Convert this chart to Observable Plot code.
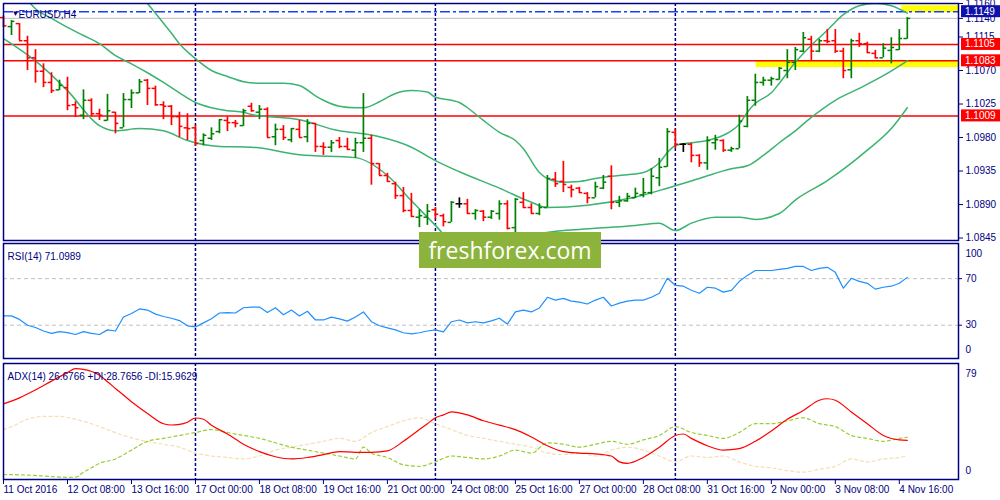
<!DOCTYPE html>
<html><head><meta charset="utf-8">
<script src="https://cdn.jsdelivr.net/npm/d3@7"></script>
<script src="https://cdn.jsdelivr.net/npm/@observablehq/plot@0.6"></script>
<style>
body{margin:0;background:#fff;}
#wrap{position:relative;width:1000px;height:500px;overflow:hidden;background:#fff;}
#wrap svg{position:absolute;left:0;}
#wm{position:absolute;left:419px;top:232px;width:182px;height:36px;background:#8cb43c;color:#fff;font-family:"Open Sans",sans-serif;font-size:23px;line-height:36px;text-align:center;z-index:5;}
</style></head><body><div id="wrap"></div><script>
// ---------- data ----------
const tickIdx = [0,8,16,24,32,40,48,56,64,72,80,88,96,104,112];
const tickLabels = ["11 Oct 2016","12 Oct 08:00","13 Oct 16:00","17 Oct 00:00","18 Oct 08:00","19 Oct 16:00","21 Oct 00:00","24 Oct 08:00","25 Oct 16:00","27 Oct 00:00","28 Oct 08:00","31 Oct 16:00","2 Nov 00:00","3 Nov 08:00","4 Nov 16:00"];
const weekStarts = [24, 54, 84];
const priceTicks = [1.1160,1.1140,1.1115,1.1070,1.1025,1.0980,1.0935,1.0890,1.0845];

const open = [
1.1141,1.1129,1.1133,1.1110,1.1087,1.1069,1.1054,1.1044,1.1047,1.1024,
1.1010,1.1030,1.1012,1.1003,1.1014,1.0993,1.1031,1.1040,1.1057,1.1046,
1.1024,1.1022,1.1008,1.0993,1.0993,1.0976,1.0979,1.0988,1.1003,1.1000,
1.0996,1.1022,1.1014,1.1018,1.0981,1.0991,1.0977,1.0991,1.0981,1.0999,
1.0968,1.0967,1.0976,1.0968,1.0963,1.0973,1.0979,1.0945,1.0929,1.0918,
1.0902,1.0882,1.0873,1.0873,1.0883,1.0875,1.0866,1.0891,1.0891,1.0878,
1.0881,1.0873,1.0878,1.0891,1.0859,1.0893,1.0886,1.0878,1.0886,1.0924,
1.0921,1.0913,1.0912,1.0905,1.0899,1.0912,1.0928,1.0893,1.0895,1.0899,
1.0903,1.0906,1.0926,1.0941,1.0987,1.0971,1.0971,1.0956,1.0946,1.0973,
1.0976,1.0963,1.0965,1.0995,1.1030,1.1054,1.1057,1.1058,1.1070,1.1081,
1.1096,1.1112,1.1096,1.1110,1.1110,1.1096,1.1071,1.1110,1.1106,1.1093,
1.1087,1.1097,1.1098,1.1113];
const high = [
1.1143,1.1137,1.1133,1.1116,1.1098,1.1079,1.1067,1.1057,1.1061,1.1028,
1.1044,1.1032,1.1018,1.1038,1.1014,1.1039,1.1044,1.1058,1.1058,1.1049,
1.1028,1.1023,1.1014,1.1012,1.0996,1.0985,1.0993,1.1004,1.1008,1.1003,
1.1018,1.1026,1.1023,1.1020,1.0998,1.0996,1.0992,1.1003,1.1004,1.0999,
1.0973,1.0976,1.0980,1.0979,1.0979,1.1039,1.0983,1.0945,1.0932,1.0920,
1.0913,1.0905,1.0883,1.0890,1.0886,1.0877,1.0894,1.0899,1.0897,1.0883,
1.0882,1.0882,1.0895,1.0895,1.0898,1.0906,1.0891,1.0891,1.0929,1.0933,
1.0948,1.0916,1.0913,1.0906,1.0920,1.0929,1.0942,1.0901,1.0905,1.0912,
1.0925,1.0938,1.0952,1.0992,1.0991,1.0972,1.0972,1.0957,1.0981,1.0983,
1.0977,1.0967,1.1010,1.1035,1.1065,1.1061,1.1061,1.1074,1.1098,1.1101,
1.1121,1.1116,1.1112,1.1125,1.1125,1.1100,1.1112,1.1120,1.1108,1.1097,
1.1106,1.1114,1.1125,1.1141];
const low = [
1.1128,1.1117,1.1110,1.1070,1.1053,1.1047,1.1039,1.1043,1.1016,1.1007,
1.1004,1.1008,1.1003,1.1002,1.0985,1.0993,1.1019,1.1039,1.1023,1.1022,
1.1004,1.0996,1.0980,1.0976,1.0968,1.0969,1.0976,1.0985,1.0988,1.0993,
1.0995,1.1014,1.1004,1.0980,1.0969,1.0976,1.0973,1.0980,1.0973,1.0960,
1.0956,1.0960,1.0965,1.0963,1.0952,1.0960,1.0916,1.0929,1.0920,1.0897,
1.0879,1.0873,1.0859,1.0862,1.0870,1.0860,1.0866,1.0885,1.0877,1.0869,
1.0867,1.0870,1.0869,1.0856,1.0852,1.0885,1.0877,1.0875,1.0886,1.0913,
1.0906,1.0899,1.0905,1.0891,1.0899,1.0910,1.0883,1.0886,1.0893,1.0898,
1.0899,1.0903,1.0914,1.0940,1.0965,1.0960,1.0946,1.0940,1.0936,1.0963,
1.0960,1.0960,1.0965,1.0993,1.1022,1.1049,1.1049,1.1057,1.1059,1.1070,
1.1094,1.1083,1.1094,1.1106,1.1093,1.1059,1.1059,1.1101,1.1093,1.1086,
1.1087,1.1079,1.1097,1.1112];
const close = [
1.1130,1.1136,1.1110,1.1087,1.1069,1.1054,1.1043,1.1050,1.1023,1.1020,
1.1030,1.1012,1.1010,1.1016,1.0999,1.1031,1.1040,1.1055,1.1046,1.1024,
1.1022,1.1008,1.0995,1.0992,1.0972,1.0983,1.0985,1.1004,1.1000,1.0999,
1.1016,1.1016,1.1018,1.0980,1.0991,1.0980,1.0992,1.0980,1.0999,1.0968,
1.0967,1.0973,1.0968,1.0964,1.0973,1.0979,1.0945,1.0929,1.0921,1.0902,
1.0882,1.0874,1.0875,1.0881,1.0877,1.0867,1.0893,1.0891,1.0878,1.0882,
1.0873,1.0881,1.0891,1.0858,1.0897,1.0886,1.0878,1.0886,1.0925,1.0918,
1.0917,1.0910,1.0906,1.0899,1.0914,1.0920,1.0893,1.0895,1.0901,1.0905,
1.0906,1.0928,1.0940,1.0988,1.0971,1.0971,1.0956,1.0946,1.0976,1.0977,
1.0963,1.0965,1.1002,1.1030,1.1054,1.1057,1.1059,1.1073,1.1081,1.1098,
1.1114,1.1096,1.1110,1.1109,1.1096,1.1070,1.1110,1.1106,1.1094,1.1087,
1.1100,1.1101,1.1113,1.1140];

// Bollinger bands (bar index, price)
const bbUpper = [[16,1.1185],[18,1.1160],[19,1.1147],[21,1.1120],[22,1.1106],[24,1.1086],[26,1.1070],[28,1.1062],[30,1.1055],[32,1.1053],[35,1.1053],[37,1.1050],[39,1.1036],[40,1.1030],[42,1.1022],[44,1.1020],[45,1.1020],[47,1.1028],[48,1.1034],[50,1.1042],[51,1.1043],[53,1.1041],[54,1.1034],[56,1.1030],[57,1.1027],[58,1.1020],[60,1.1003],[62,1.0987],[64,1.0976],[65,1.0965],[67,1.0933],[68,1.0925],[70,1.0920],[72,1.0921],[74,1.0925],[76,1.0928],[78,1.0930],[80,1.0933],[81,1.0938],[82,1.0946],[83,1.0960],[84,1.0969],[86,1.0973],[88,1.0976],[90,1.0983],[91,1.0989],[92,1.0998],[93,1.1014],[94,1.1026],[96,1.1040],[97,1.1053],[99,1.1081],[101,1.1104],[103,1.1124],[105,1.1145],[107,1.1157],[109,1.1160],[111,1.1157],[113,1.1147]];
const bbMiddle = [[2,1.1175],[3,1.1164],[4,1.1153],[6,1.1140],[8,1.1128],[10,1.1117],[12,1.1106],[14,1.1090],[16,1.1079],[18,1.1067],[20,1.1054],[22,1.1040],[24,1.1027],[26,1.1020],[28,1.1016],[30,1.1014],[31,1.1011],[37,1.1004],[42,1.0989],[45,1.0985],[47,1.0981],[51,1.0967],[54,1.0949],[57,1.0934],[62,1.0912],[66,1.0893],[68,1.0886],[73,1.0889],[79,1.0900],[83,1.0912],[87,1.0925],[91,1.0938],[93,1.0942],[95,1.0956],[97,1.0973],[99,1.0989],[101,1.1007],[104,1.1030],[107,1.1046],[110,1.1063],[113,1.1083]];
const bbLower = [[0,1.1113],[4,1.1083],[8,1.1043],[12,1.0996],[14,1.0989],[17,1.0992],[20,1.0989],[23,1.0976],[27,1.0968],[31,1.0967],[37,1.0957],[44,1.0953],[48,1.0929],[51,1.0895],[54,1.0862],[57,1.0828],[60,1.0818],[63,1.0828],[67,1.0851],[74,1.0858],[79,1.0862],[82,1.0865],[84,1.0855],[86,1.0865],[89,1.0873],[92,1.0873],[94,1.0870],[97,1.0878],[99,1.0896],[103,1.0922],[108,1.0963],[111,1.0992],[113,1.1020]];

const levels = [1.1105, 1.1083, 1.1009];
const markLevel = 1.1149;
const askLevel = 1.1140;
const highlights = [{x1:94.1,x2:119.4,y1:1.1074,y2:1.1083},{x1:112.3,x2:119.4,y1:1.1148,y2:1.1157}];
const boxes = [{v:1.1149,c:"#1010aa"},{v:1.1105,c:"#ff0000"},{v:1.1083,c:"#ff0000"},{v:1.1009,c:"#ff0000"}];
const arrowShaft = [[113,1.1141],[113.6,1.1153],[114.3,1.1160],[115.2,1.1164],[116.4,1.1165],[117.7,1.1161],[118.9,1.1151],[119.9,1.1137],[120.8,1.1121],[121.7,1.1105]];
const arrowBarbA = [[119.3,1.1125],[121.7,1.1105]];
const arrowBarbB = [[122.2,1.1127],[121.7,1.1105]];

const rsi = [38,38,35,30,28,25,23,24.5,23.7,22, 24.5,23,22,26,25,37,40,44,43,39.5, 37.5,36,34,29.5,28.5,32,35.5,40.5,40.8,40.5, 45,45.5,45.6,41,45,39,43,38,42,34.5, 34.5,37,35.5,33.5,37,41.4,33,29.5,27.7,26, 23.5,22.6,23.5,25,26,24.3,33,34.5,32,33, 32,33.7,36,31,41.4,43,41.4,44.8,54,51.6, 53,50.7,49.9,48.2,51.6,54,46.5,49,50.7,51.6, 51.6,54,57.5,70.3,64.3,63.5,60,57.5,62.6,61.8, 58.4,60,67.7,72.8,77,77,77,78,78.8,80.5, 80.5,77,78.8,79.7,75.4,61.8,70.3,67.7,66,61, 62.6,63.5,66,71.1];
const rsiLevels = [70, 30];

const adx = [[0,51.5],[2,55.6],[4,61],[6,67],[8,72.8],[9,75.5],[10,75],[12,71],[13,66.6],[14,62],[16,53],[18,45],[20,38],[21,37.1],[22,37.5],[23,39],[24,41.9],[25,41],[26,37],[28,31],[30,24],[32,19],[34,15.5],[36,14],[38,15],[40,17],[42,19],[44,18.5],[46,18.5],[48,19.5],[50,26],[52,34],[53,38],[54,42],[55,44],[56,46],[58,44],[60,40],[62,37],[64,34],[66,29],[68,23],[70,19],[72,18],[74,17.5],[76,16],[77,12],[78,11],[80,15],[82,22],[84,30],[85,31],[86,28],[88,23],[90,20],[92,21],[94,26],[96,33],[98,41],[100,47],[102,54],[103,55],[104,54],[106,46],[108,38],[110,30],[112,27],[113,26.7]];
const plusDI = [[0,3.4],[3,3],[6,2],[8,1.5],[9,1.6],[10,5],[11,8],[12,11],[14,14],[16,20],[18,26],[20,28],[22,30],[24,32],[26,34],[28,32],[30,30],[32,28],[34,25],[36,22],[38,20],[40,18],[42,16],[44,14],[45,22],[46,18],[48,15],[50,10],[52,9],[54,12],[56,16],[58,15],[60,14],[62,16],[64,20],[66,18],[68,25],[70,24],[72,22],[74,24],[76,26],[78,24],[80,27],[82,30],[84,36],[86,32],[88,30],[90,28],[92,32],[94,38],[96,38],[98,40],[100,42],[102,38],[104,36],[106,30],[108,28],[110,26],[112,28],[113,28.8]];
const minusDI = [[0,34],[1,36],[3,41],[5,43],[7,43],[9,41],[11,38],[13,34],[15,30],[17,27],[20,24],[22,22],[24,18],[26,16],[28,15],[30,14],[32,16],[34,20],[36,22],[38,24],[40,26],[42,28],[44,26],[46,32],[48,36],[50,40],[52,42],[54,38],[56,34],[58,30],[60,28],[62,26],[64,24],[66,22],[68,18],[70,17],[72,18],[74,16],[76,20],[78,22],[80,20],[82,16],[84,12],[86,16],[88,15],[90,16],[92,12],[94,9],[96,8],[98,6],[100,5],[102,7],[104,9],[106,14],[108,12],[110,14],[112,15],[113,16]];

// ---------- drawing ----------
const navy = "#000080";
const FONT = "'Liberation Sans', Arial, sans-serif";
const xDomain = [0, 119.4];
const common = {width: 1000, marginLeft: 3, marginRight: 42,
  style: {background: "transparent", overflow: "visible", color: navy, fontFamily: FONT, fontSize: "10px"}};
const pts = a => a.map(([i, v]) => ({i, v}));
const bars = open.map((o, i) => ({i, o, h: high[i], l: low[i], c: close[i]}));
const barColor = d => d.c > d.o ? "#008000" : d.c < d.o ? "#ff0000" : "#000000";
const bb = "#3cb371";

function priceBoxes(items) {
  return (index, scales, values, dims) => {
    const ys = scales.y;
    const g = d3.create("svg:g");
    const x0 = dims.width - dims.marginRight + 3;
    for (const d of items) {
      const y = ys(d.v);
      g.append("rect").attr("x", x0).attr("y", y - 6).attr("width", 39).attr("height", 12).attr("fill", d.c);
      g.append("text").attr("x", x0 + 4).attr("y", y).attr("dy", "0.35em").attr("text-anchor", "start")
        .attr("fill", "#fff").attr("font-size", 10).attr("font-family", FONT).text(d.v.toFixed(4));
    }
    return g.node();
  };
}

const main = Plot.plot({
  ...common, height: 242, marginTop: 3, marginBottom: 2,
  x: {domain: xDomain, axis: null, label: null},
  y: {domain: [1.08417, 1.1160], axis: null, label: null},
  marks: [
    Plot.rect(highlights, {x1: "x1", x2: "x2", y1: "y1", y2: "y2", fill: "#ffff00", clip: true, ariaLabel: "highlight"}),
    Plot.ruleY([askLevel], {stroke: "#c8c8c8", strokeWidth: 1.2}),
    Plot.ruleY(levels, {stroke: "#ff0000", strokeWidth: 1.5}),
    Plot.ruleY([markLevel], {stroke: "#1a3cff", strokeWidth: 1.5, strokeDasharray: "10,3,3,3"}),
    Plot.ruleX(weekStarts, {stroke: navy, strokeWidth: 1.5, strokeDasharray: "3,2"}),
    Plot.line(pts(bbUpper), {x: "i", y: "v", stroke: bb, curve: "monotone-x", clip: true}),
    Plot.line(pts(bbMiddle), {x: "i", y: "v", stroke: bb, curve: "monotone-x", clip: true}),
    Plot.line(pts(bbLower), {x: "i", y: "v", stroke: bb, curve: "monotone-x", clip: true}),
    Plot.ruleX(bars, {x: "i", y1: "l", y2: "h", stroke: barColor, strokeWidth: 1.7}),
    Plot.ruleY(bars, {y: "o", x1: d => d.i - 0.42, x2: "i", stroke: barColor, strokeWidth: 1.5}),
    Plot.ruleY(bars, {y: "c", x1: "i", x2: d => d.i + 0.42, stroke: barColor, strokeWidth: 1.5}),
    Plot.axisY({anchor: "right", ticks: priceTicks, tickFormat: d => d.toFixed(4), tickSize: 4, tickPadding: 3, fontSize: 10}),
    Plot.text(["▼"], {frameAnchor: "top-left", dx: 8, dy: 7, fontSize: 8, fill: navy}),
    Plot.text(["EURUSD,H4"], {frameAnchor: "top-left", dx: 15, dy: 7, textAnchor: "start", fill: navy, fontSize: 10}),
    priceBoxes(boxes),
    Plot.line(pts(arrowShaft), {x: "i", y: "v", stroke: "#1a1ae6", strokeWidth: 3, curve: "catmull-rom", ariaLabel: "arrow"}),
    Plot.line(pts(arrowBarbA), {x: "i", y: "v", stroke: "#1a1ae6", strokeWidth: 3, ariaLabel: "arrow"}),
    Plot.line(pts(arrowBarbB), {x: "i", y: "v", stroke: "#1a1ae6", strokeWidth: 3, ariaLabel: "arrow"}),
    Plot.frame({stroke: navy, strokeWidth: 1.5})
  ]
});

const rsiPlot = Plot.plot({
  ...common, height: 120, marginTop: 2, marginBottom: 3,
  x: {domain: xDomain, axis: null, label: null},
  y: {domain: [1.4, 100.2], axis: null, label: null},
  marks: [
    Plot.ruleY(rsiLevels, {stroke: "#c0c0c0", strokeDasharray: "4,3"}),
    Plot.ruleX(weekStarts, {stroke: navy, strokeWidth: 1.5, strokeDasharray: "3,2"}),
    Plot.line(rsi, {x: (d, i) => i, y: d => d, stroke: "#1e90ff", strokeWidth: 1.2}),
    Plot.axisY({anchor: "right", ticks: rsiLevels, tickSize: 3, tickPadding: 4, fontSize: 10}),
    Plot.text(["100"], {frameAnchor: "top-right", dx: 7, dy: 6, textAnchor: "start", fill: navy, fontSize: 10}),
    Plot.text(["0"], {frameAnchor: "bottom-right", dx: 7, dy: -6, textAnchor: "start", fill: navy, fontSize: 10}),
    Plot.text(["RSI(14) 71.0989"], {frameAnchor: "top-left", dx: 4, dy: 9, textAnchor: "start", fill: navy, fontSize: 10}),
    Plot.frame({stroke: navy, strokeWidth: 1.5})
  ]
});

const labelOf = new Map(tickIdx.map((t, k) => [t, tickLabels[k]]));
const adxPlot = Plot.plot({
  ...common, height: 139, marginTop: 2, marginBottom: 21,
  x: {domain: xDomain, axis: null, label: null},
  y: {domain: [0, 79], axis: null, label: null},
  marks: [
    Plot.ruleX(weekStarts, {stroke: navy, strokeWidth: 1.5, strokeDasharray: "3,2"}),
    Plot.line(pts(minusDI), {x: "i", y: "v", stroke: "#f5deb3", strokeWidth: 1.2, strokeDasharray: "3,3", curve: "monotone-x"}),
    Plot.line(pts(plusDI), {x: "i", y: "v", stroke: "#9acd32", strokeWidth: 1.2, strokeDasharray: "3,3", curve: "monotone-x"}),
    Plot.line(pts(adx), {x: "i", y: "v", stroke: "#ff0000", strokeWidth: 1.2, curve: "monotone-x"}),
    Plot.axisX({anchor: "bottom", ticks: tickIdx, tickFormat: d => labelOf.get(d), textAnchor: "start", tickSize: 5, tickPadding: 1, fontSize: 10}),
    Plot.text(["79"], {frameAnchor: "top-right", dx: 7, dy: 6, textAnchor: "start", fill: navy, fontSize: 10}),
    Plot.text(["0"], {frameAnchor: "bottom-right", dx: 7, dy: -6, textAnchor: "start", fill: navy, fontSize: 10}),
    Plot.text(["ADX(14) 26.6766 +DI:28.7656 -DI:15.9629"], {frameAnchor: "top-left", dx: 4, dy: 9, textAnchor: "start", fill: navy, fontSize: 10}),
    Plot.frame({stroke: navy, strokeWidth: 1.5})
  ]
});

const wrap = document.getElementById("wrap");
adxPlot.style.top = "361px"; rsiPlot.style.top = "241px"; main.style.top = "0px";
wrap.appendChild(adxPlot); wrap.appendChild(rsiPlot); wrap.appendChild(main);
main.querySelectorAll('g[aria-label="highlight"]').forEach(g => g.style.filter = "drop-shadow(2px 3px 1.5px rgba(40,40,40,0.6))");
main.querySelectorAll('g[aria-label="arrow"]').forEach(g => g.style.filter = "drop-shadow(2px 2px 1.5px rgba(40,40,40,0.5))");
const wm = document.createElement("div"); wm.id = "wm"; wm.textContent = "freshforex.com"; wrap.appendChild(wm);
</script></body></html>
